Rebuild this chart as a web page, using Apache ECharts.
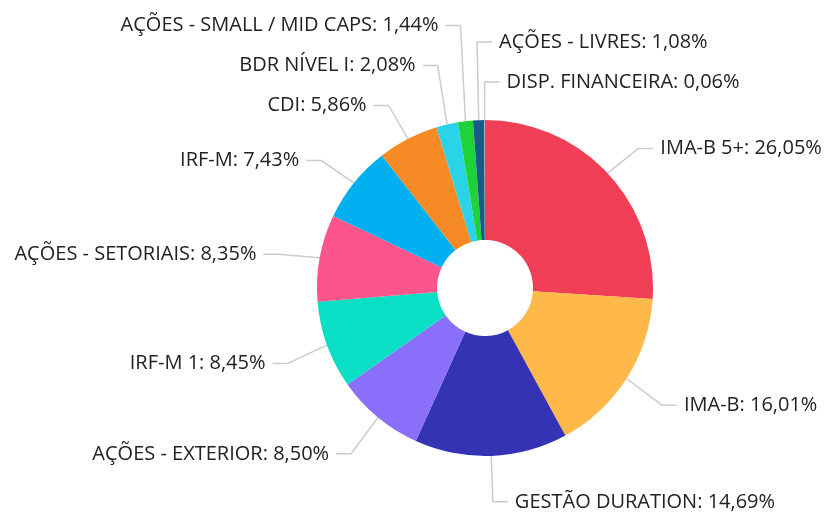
<!DOCTYPE html>
<html>
<head>
<meta charset="utf-8">
<script src="https://cdn.jsdelivr.net/npm/echarts@6/dist/echarts.min.js"></script>
<style>
  html, body { margin: 0; padding: 0; background: #fff; }
  #chart { width: 825px; height: 512px; }
</style>
</head>
<body>
<div id="chart"></div>
<script>
// categorias e percentuais, na ordem horária a partir do topo
var categories = [
  "IMA-B 5+", "IMA-B", "GESTÃO DURATION", "AÇÕES - EXTERIOR", "IRF-M 1",
  "AÇÕES - SETORIAIS", "IRF-M", "CDI", "BDR NÍVEL I",
  "AÇÕES - SMALL / MID CAPS", "AÇÕES - LIVRES", "DISP. FINANCEIRA"
]
var values = [26.05, 16.01, 14.69, 8.50, 8.45, 8.35, 7.43, 5.86, 2.08, 1.44, 1.08, 0.06]
var colors = [
  "#ef3e56", "#ffb84a", "#3333b3", "#8a6ffb", "#0adfc5",
  "#fb558b", "#00b0f0", "#f68b25", "#2bd3e8",
  "#1ed239", "#185a88", "#b0b0b0"
]

var CX = 485, CY = 288, R_IN = 48, R_OUT = 168
var R_LABEL = 210   // raio onde ficam as dobras das linhas
var GAP = 40        // distância mínima entre rótulos do mesmo lado
var Y_SHIFT = 4

// posições dos rótulos (estilo "distribute"): ângulo médio de cada fatia
function buildLabelLayout() {
  var total = values.reduce(function (s, v) { return s + v }, 0)
  var cum = 0
  var items = values.map(function (v, i) {
    var a = (cum + v / 2) / total * 360
    cum += v
    var rad = a * Math.PI / 180
    var side = Math.sin(rad) > -0.06 ? "right" : "left"
    return {
      i: i, a: a, side: side,
      order: side === "right" ? (a > 180 ? a - 360 : a) : -a,
      y: CY + Y_SHIFT - R_LABEL * Math.cos(rad),
      bx: CX + R_LABEL * Math.sin(rad)
    }
  })
  ;["left", "right"].forEach(function (side) {
    var list = items.filter(function (d) { return d.side === side })
    list.sort(function (p, q) { return p.order - q.order })
    for (var k = list.length - 2; k >= 0; k--) {
      list[k].y = Math.min(list[k].y, list[k + 1].y - GAP)
    }
    for (var k = 0; k < list.length; k++) {
      var minY = k === 0 ? 14 : list[k - 1].y + GAP
      list[k].y = Math.max(list[k].y, minY)
    }
  })
  var out = []
  items.forEach(function (d) { out[d.i] = d })
  return out
}
var labelPos = buildLabelLayout()

var chart = echarts.init(document.getElementById("chart"))

var seriesData = categories.map(function (name, i) {
  return { name: name, value: values[i], itemStyle: { color: colors[i] } }
})

var option = {
  animation: false,
  series: [
    {
      type: "pie",
      center: [CX, CY],
      radius: [R_IN, R_OUT],
      startAngle: 90,
      clockwise: true,
      avoidLabelOverlap: false,
      data: seriesData,
      label: {
        show: true,
        fontFamily: "Open Sans",
        fontSize: 20,
        color: "#222",
        formatter: function (p) {
          return p.name + ": " + p.value.toFixed(2).replace(".", ",") + "%"
        }
      },
      labelLine: {
        show: true,
        length: 20,
        length2: 15,
        lineStyle: { color: "#cccccc", width: 1.5 }
      },
      labelLayout: function (p) {
        var L = labelPos[p.dataIndex]
        var edge = p.labelLinePoints[0]
        var dir = L.side === "right" ? 1 : -1
        var endX = L.bx + dir * 15
        return {
          x: endX + dir * 7,
          y: L.y,
          align: L.side === "right" ? "left" : "right",
          verticalAlign: "middle",
          labelLinePoints: [edge, [L.bx, L.y], [endX, L.y]]
        }
      },
      itemStyle: { borderWidth: 0 },
      emphasis: { disabled: true }
    }
  ]
}
chart.setOption(option)
</script>
</body>
</html>
